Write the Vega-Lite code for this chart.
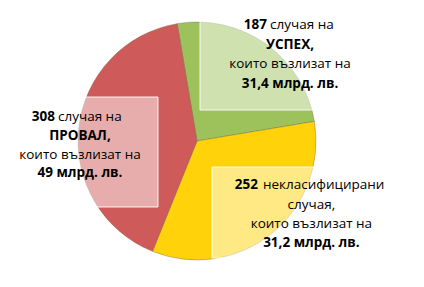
{
  "$schema": "https://vega.github.io/schema/vega-lite/v6.json",
  "width": 394,
  "height": 282,
  "autosize": "none",
  "padding": {"left": 0, "top": 0, "right": 30, "bottom": 5},
  "background": "white",
  "config": {
    "view": {"stroke": null},
    "text": {"font": "Open Sans", "fontSize": 13.5, "fill": "#000000", "baseline": "middle"}
  },
  "data": {
    "values": [
      {"status": "УСПЕХ", "count": 187, "amount": "31,4 млрд. лв."},
      {"status": "некласифицирани", "count": 252, "amount": "31,2 млрд. лв."},
      {"status": "ПРОВАЛ", "count": 308, "amount": "49 млрд. лв."}
    ]
  },
  "layer": [
    {
      "mark": {"type": "arc", "outerRadius": 119, "stroke": "#6b5a3a", "strokeWidth": 0.8, "strokeOpacity": 0.45},
      "encoding": {
        "theta": {"field": "count", "type": "quantitative", "stack": true, "scale": {"range": [-0.16755, 6.11564]}},
        "order": {"field": "count", "type": "quantitative", "sort": "ascending"},
        "color": {"field": "status", "type": "nominal", "legend": null,
          "scale": {"domain": ["УСПЕХ", "некласифицирани", "ПРОВАЛ"], "range": ["#9DC25C", "#FFD20A", "#CE5A59"]}}
      }
    },
    {
      "mark": {"type": "point", "filled": true, "size": 4, "fill": "#ffffff", "fillOpacity": 0.5, "stroke": "#ffffff", "strokeWidth": 1, "strokeOpacity": 0.9, "opacity": 1},
      "encoding": {
        "shape": {"field": "status", "type": "nominal", "legend": null,
          "scale": {"domain": ["УСПЕХ", "некласифицирани", "ПРОВАЛ"],
            "range": ["M3,-126H183V-31H3Z", "M15,26H203V117H15Z", "M-195,-44H-39V66H-195Z"]}}
      }
    },
    {
      "encoding": {
        "theta": {"field": "count", "type": "quantitative", "stack": true, "scale": {"range": [-0.16755, 6.11564]}},
        "order": {"field": "count", "type": "quantitative", "sort": "ascending"},
        "detail": {"field": "status", "type": "nominal"}
      },
      "layer": [
        {"mark": {"type": "text", "radius": 100, "fontWeight": "bold", "align": "right", "dx": 12, "dy": -34.5},
         "encoding": {"text": {"condition": {"test": "datum.status === 'УСПЕХ'", "field": "count", "type": "quantitative"}, "value": ""}}},
        {"mark": {"type": "text", "radius": 100, "align": "left", "dx": 15, "dy": -34.5},
         "encoding": {"text": {"condition": {"test": "datum.status === 'УСПЕХ'", "value": "случая на"}, "value": ""}}},
        {"mark": {"type": "text", "radius": 100, "fontWeight": "bold", "align": "center", "dx": 35, "dy": -15},
         "encoding": {"text": {"condition": {"test": "datum.status === 'УСПЕХ'", "value": "УСПЕХ,"}, "value": ""}}},
        {"mark": {"type": "text", "radius": 100, "align": "center", "dx": 35, "dy": 4.5},
         "encoding": {"text": {"condition": {"test": "datum.status === 'УСПЕХ'", "value": "които възлизат на"}, "value": ""}}},
        {"mark": {"type": "text", "radius": 100, "fontWeight": "bold", "align": "center", "dx": 35, "dy": 24},
         "encoding": {"text": {"condition": {"test": "datum.status === 'УСПЕХ'", "field": "amount", "type": "nominal"}, "value": ""}}},

        {"mark": {"type": "text", "radius": 100, "fontWeight": "bold", "align": "right", "dx": -42.6, "dy": -13.2},
         "encoding": {"text": {"condition": {"test": "datum.status === 'ПРОВАЛ'", "field": "count", "type": "quantitative"}, "value": ""}}},
        {"mark": {"type": "text", "radius": 100, "align": "left", "dx": -39.6, "dy": -13.2},
         "encoding": {"text": {"condition": {"test": "datum.status === 'ПРОВАЛ'", "value": "случая на"}, "value": ""}}},
        {"mark": {"type": "text", "radius": 100, "fontWeight": "bold", "align": "center", "dx": -17.6, "dy": 5.3},
         "encoding": {"text": {"condition": {"test": "datum.status === 'ПРОВАЛ'", "value": "ПРОВАЛ,"}, "value": ""}}},
        {"mark": {"type": "text", "radius": 100, "align": "center", "dx": -17.6, "dy": 24.3},
         "encoding": {"text": {"condition": {"test": "datum.status === 'ПРОВАЛ'", "value": "които възлизат на"}, "value": ""}}},
        {"mark": {"type": "text", "radius": 100, "fontWeight": "bold", "align": "center", "dx": -17.6, "dy": 42.8},
         "encoding": {"text": {"condition": {"test": "datum.status === 'ПРОВАЛ'", "field": "amount", "type": "nominal"}, "value": ""}}},

        {"mark": {"type": "text", "radius": 100, "fontWeight": "bold", "align": "right", "dx": -1.7, "dy": -34.4},
         "encoding": {"text": {"condition": {"test": "datum.status === 'некласифицирани'", "field": "count", "type": "quantitative"}, "value": ""}}},
        {"mark": {"type": "text", "radius": 100, "align": "left", "dx": 3.3, "dy": -34.4},
         "encoding": {"text": {"condition": {"test": "datum.status === 'некласифицирани'", "field": "status", "type": "nominal"}, "value": ""}}},
        {"mark": {"type": "text", "radius": 100, "align": "center", "dx": 51.8, "dy": -14.4},
         "encoding": {"text": {"condition": {"test": "datum.status === 'некласифицирани'", "value": "случая,"}, "value": ""}}},
        {"mark": {"type": "text", "radius": 100, "align": "center", "dx": 51.8, "dy": 4.6},
         "encoding": {"text": {"condition": {"test": "datum.status === 'некласифицирани'", "value": "които възлизат на"}, "value": ""}}},
        {"mark": {"type": "text", "radius": 100, "fontWeight": "bold", "align": "center", "dx": 51.8, "dy": 24.1},
         "encoding": {"text": {"condition": {"test": "datum.status === 'некласифицирани'", "field": "amount", "type": "nominal"}, "value": ""}}}
      ]
    }
  ]
}
